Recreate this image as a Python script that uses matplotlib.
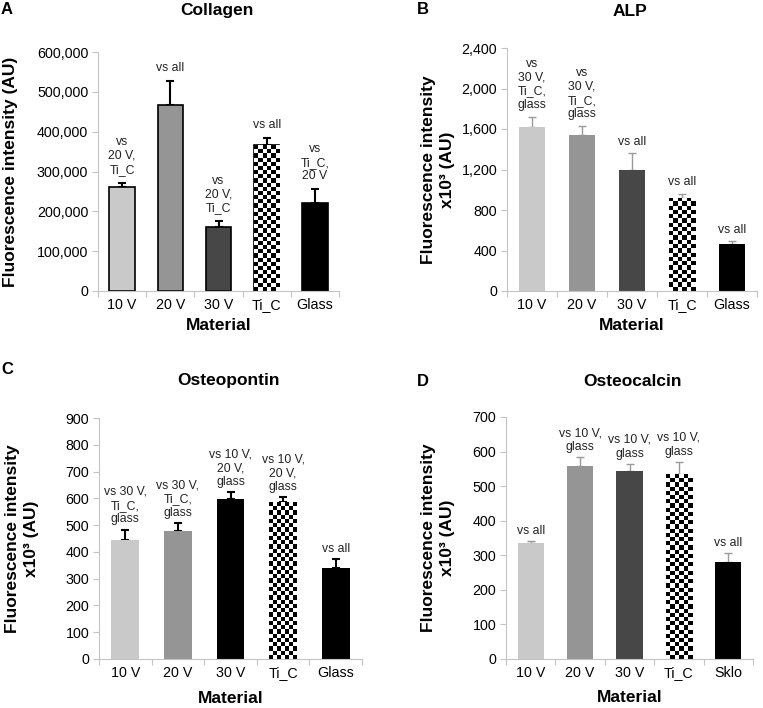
import matplotlib
matplotlib.use("Agg")
import matplotlib.pyplot as plt
import numpy as np
from matplotlib.ticker import FuncFormatter, MultipleLocator, FixedLocator

plt.rcParams['font.family'] = ['Liberation Sans', 'DejaVu Sans']

# ---------------- data ----------------
cats_abc = ["10 V", "20 V", "30 V", "Ti_C", "Glass"]
cats_d = ["10 V", "20 V", "30 V", "Ti_C", "Sklo"]

collagen_vals = [260000, 467000, 161000, 366000, 222000]
collagen_errtop = [272000, 528000, 175000, 383000, 255000]
collagen_notes = ["vs\n20 V,\nTi_C", "vs all", "vs\n20 V,\nTi_C", "vs all", "vs\nTi_C,\n20 V"]

alp_vals = [1620, 1540, 1200, 920, 460]
alp_errtop = [1720, 1630, 1360, 960, 490]
alp_notes = ["vs\n30 V,\nTi_C,\nglass", "vs\n30 V,\nTi_C,\nglass", "vs all", "vs all", "vs all"]

opn_vals = [443, 477, 598, 585, 340]
opn_errtop = [483, 508, 623, 605, 373]
opn_notes = ["vs 30 V,\nTi_C,\nglass", "vs 30 V,\nTi_C,\nglass", "vs 10 V,\n20 V,\nglass",
             "vs 10 V,\n20 V,\nglass", "vs all"]

ocn_vals = [335, 558, 543, 535, 280]
ocn_errtop = [342, 583, 565, 570, 307]
ocn_notes = ["vs all", "vs 10 V,\nglass", "vs 10 V,\nglass", "vs 10 V,\nglass", "vs all"]

# ---------------- styles ----------------
W, H = 763, 708
fig = plt.figure(figsize=(W / 100, H / 100), dpi=100)

LIGHT, MID, DARK, BLACK = "#c9c9c9", "#959595", "#474747", "#000000"
AXCOL = "#c4c4c4"
TICK_FS = 10.3
LABEL_FS = 12.5
NOTE_FS = 8.8


def px_rect(l, t, r, b):
    return [l / W, 1 - b / H, (r - l) / W, (b - t) / H]


def checker_fill(ax, bar, cell_px=4.2):
    x0, y0 = bar.get_x(), bar.get_y()
    w, h = bar.get_width(), bar.get_height()
    fig.canvas.draw()
    p0 = ax.transData.transform((x0, y0))
    p1 = ax.transData.transform((x0 + w, y0 + h))
    ncol = max(1, int(round(abs(p1[0] - p0[0]) / cell_px)))
    nrow = max(1, int(round(abs(p1[1] - p0[1]) / cell_px)))
    arr = (np.add.outer(np.arange(nrow), np.arange(ncol)) % 2).astype(float)
    im = ax.imshow(arr, cmap="gray", vmin=0, vmax=1, interpolation="nearest",
                   extent=(x0, x0 + w, y0, y0 + h), aspect="auto", zorder=2)
    im.set_clip_path(bar)


def panel(rect, cats, vals, errtop, notes, ymax, ystep, colors, edge, errcolor, errlw,
          ylabel, ylabel_x, fmt_comma, note_gap=3, xlabel_y=-0.14):
    ax = fig.add_axes(px_rect(*rect))
    x = np.arange(len(cats))
    vals = np.array(vals, float)
    errtop = np.array(errtop, float)
    bars = ax.bar(x, vals, width=0.53, color=colors,
                  edgecolor=edge if edge else colors,
                  linewidth=1.2 if edge else 0, zorder=2)
    ax.errorbar(x, vals, yerr=[np.zeros_like(vals), errtop - vals], fmt="none",
                ecolor=errcolor, elinewidth=errlw, capsize=2.8, capthick=errlw, zorder=1)
    ax.set_xlim(-0.5, len(cats) - 0.5)
    ax.set_ylim(0, ymax)
    ax.yaxis.set_major_locator(MultipleLocator(ystep))
    if fmt_comma:
        ax.yaxis.set_major_formatter(FuncFormatter(lambda v, p: f"{int(v):,}"))
    ax.set_xticks(x)
    ax.set_xticklabels(cats, fontsize=TICK_FS)
    ax.xaxis.set_minor_locator(FixedLocator(np.arange(-0.5, len(cats), 1.0)))
    ax.tick_params(axis="x", which="major", length=0, pad=5)
    ax.tick_params(axis="x", which="minor", length=4, color=AXCOL, width=0.8)
    ax.tick_params(axis="y", labelsize=TICK_FS, length=4, color=AXCOL, width=0.8, pad=3)
    for s in ("top", "right"):
        ax.spines[s].set_visible(False)
    for s in ("left", "bottom"):
        ax.spines[s].set_color(AXCOL)
        ax.spines[s].set_linewidth(0.8)
    ax.set_ylabel(ylabel, fontsize=LABEL_FS, fontweight="bold", va="center", linespacing=1.3)
    ax.yaxis.set_label_coords(ylabel_x, 0.5)
    ax.set_xlabel("Material", fontsize=LABEL_FS, fontweight="bold")
    ax.xaxis.set_label_coords(0.5, xlabel_y)
    ax.xaxis.label.set_va("center")
    for xi, et, note in zip(x, errtop, notes):
        ax.annotate(note, (xi, et), xytext=(0, note_gap), textcoords="offset points",
                    ha="center", va="bottom", fontsize=NOTE_FS, color="#222222",
                    linespacing=1.2)
    return ax, bars


YL2 = "Fluorescence intensity\nx10\u00b3 (AU)"

# Panel A
specA = [LIGHT, MID, DARK, "white", BLACK]
axA, barsA = panel((98, 52, 339, 291), cats_abc, collagen_vals, collagen_errtop, collagen_notes,
                   600000, 100000, specA, "black", "black", 1.5,
                   "Fluorescence intensity (AU)", -0.365, True, note_gap=5, xlabel_y=-0.143)
checker_fill(axA, barsA[3])

# Panel B
specB = [LIGHT, MID, DARK, "white", BLACK]
axB, barsB = panel((507, 48, 757, 291), cats_abc, alp_vals, alp_errtop, alp_notes,
                   2400, 400, specB, None, "#9a9a9a", 1.0,
                   YL2, -0.276, True, note_gap=4, xlabel_y=-0.14)
checker_fill(axB, barsB[3])

# Panel C
specC = [LIGHT, MID, BLACK, "white", BLACK]
axC, barsC = panel((99, 418, 362, 659), cats_abc, opn_vals, opn_errtop, opn_notes,
                   900, 100, specC, None, "black", 1.5,
                   YL2, -0.293, False, note_gap=3, xlabel_y=-0.165)
checker_fill(axC, barsC[3])

# Panel D
specD = [LIGHT, MID, DARK, "white", BLACK]
axD, barsD = panel((506, 417, 753, 659), cats_d, ocn_vals, ocn_errtop, ocn_notes,
                   700, 100, specD, None, "#9a9a9a", 1.0,
                   YL2, -0.275, False, note_gap=3, xlabel_y=-0.158)
checker_fill(axD, barsD[3])


# titles and panel letters
def ftext(xp, yp, s, **kw):
    fig.text(xp / W, 1 - yp / H, s, va="center", **kw)


TITLE_FS = 12.5
ftext(217, 11, "Collagen", ha="center", fontsize=TITLE_FS, fontweight="bold")
ftext(630, 11, "ALP", ha="center", fontsize=TITLE_FS, fontweight="bold")
ftext(228, 381, "Osteopontin", ha="center", fontsize=TITLE_FS, fontweight="bold")
ftext(632, 382, "Osteocalcin", ha="center", fontsize=TITLE_FS, fontweight="bold")
ftext(1, 10, "A", ha="left", fontsize=12, fontweight="bold")
ftext(417, 10, "B", ha="left", fontsize=12, fontweight="bold")
ftext(1, 369, "C", ha="left", fontsize=12, fontweight="bold")
ftext(417, 381, "D", ha="left", fontsize=12, fontweight="bold")

fig.savefig("out.png", dpi=100)
